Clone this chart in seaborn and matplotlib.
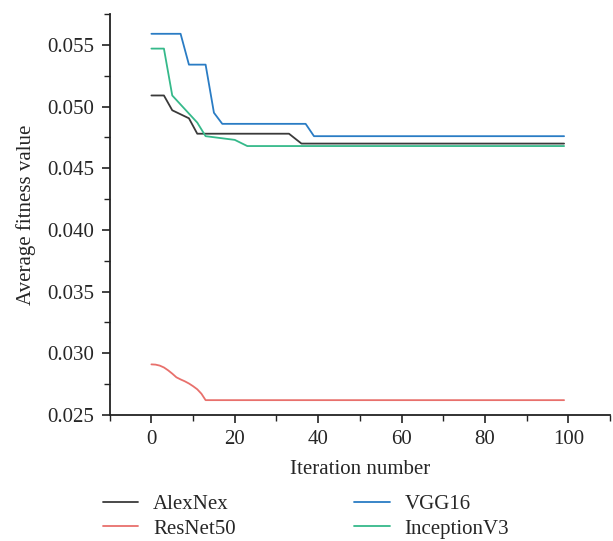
import numpy as np
import pandas as pd
import matplotlib
matplotlib.use("Agg")
import matplotlib.pyplot as plt
import seaborn as sns
from matplotlib.ticker import MultipleLocator

# Breakpoints (iteration, average fitness)
alex_x = [0, 3, 5, 9, 11, 33, 36, 99]
alex_y = [0.0509, 0.0509, 0.0497, 0.04905, 0.0478, 0.0478, 0.0470, 0.0470]

resnet_x = [0, 1, 2, 3, 4, 5, 6, 7, 8, 9, 10, 11, 12, 13, 99]
resnet_y = [0.0291, 0.02908, 0.02900, 0.02885, 0.02862, 0.02835, 0.02805, 0.02788,
            0.02773, 0.02755, 0.02733, 0.02708, 0.02672, 0.0262, 0.0262]

vgg_x = [0, 7, 9, 13, 15, 17, 37, 39, 99]
vgg_y = [0.0559, 0.0559, 0.0534, 0.0534, 0.0495, 0.0486, 0.0486, 0.0476, 0.0476]

incep_x = [0, 3, 5, 11, 13, 20, 23, 99]
incep_y = [0.0547, 0.0547, 0.0509, 0.0487, 0.0476, 0.0473, 0.0468, 0.0468]

names = ["AlexNex", "ResNet50", "VGG16", "InceptionV3"]
colors = ["#3a3a3a", "#e8706c", "#2a7cc4", "#35b98a"]

frames = []
for name, xs, ys in zip(names, [alex_x, resnet_x, vgg_x, incep_x],
                        [alex_y, resnet_y, vgg_y, incep_y]):
    frames.append(pd.DataFrame({"iteration": xs, "fitness": ys, "model": name}))
df = pd.concat(frames, ignore_index=True)

sns.set_style("ticks")
plt.rcParams["font.family"] = ["Liberation Serif", "DejaVu Serif"]

fig = plt.figure(figsize=(6.13, 5.41), dpi=100)
ax = fig.add_axes([0.179, 0.233, 0.816, 0.741])

sns.lineplot(data=df, x="iteration", y="fitness", hue="model", hue_order=names,
             palette=colors, linewidth=1.3, sort=False, estimator=None, ax=ax)

ax.set_xlim(-10, 110)
ax.set_ylim(0.025, 0.0575)
ax.xaxis.set_major_locator(MultipleLocator(20))
ax.xaxis.set_minor_locator(MultipleLocator(10))
ax.yaxis.set_major_locator(MultipleLocator(0.005))
ax.yaxis.set_minor_locator(MultipleLocator(0.0025))
ax.yaxis.set_major_formatter(matplotlib.ticker.FormatStrFormatter("%.3f"))
ax.set_yticks(np.arange(0.025, 0.0551, 0.005))

ax.tick_params(axis="both", which="major", length=6, width=1.2, labelsize=15,
               color="#222222", pad=5)
ax.tick_params(axis="both", which="minor", length=4, width=1.0, color="#222222")
for s in ["top", "right"]:
    ax.spines[s].set_visible(False)
for s in ["left", "bottom"]:
    ax.spines[s].set_linewidth(1.3)
    ax.spines[s].set_color("#222222")

ax.set_xlabel("Iteration number", fontsize=15, labelpad=8)
ax.set_ylabel("Average fitness value", fontsize=15, labelpad=8)

handles, labels = ax.get_legend_handles_labels()
ax.legend(handles, labels, ncol=2, frameon=False, fontsize=15,
          loc="upper left", bbox_to_anchor=(-0.03, -0.177),
          columnspacing=5.7, handlelength=1.7, handletextpad=0.7, labelspacing=0.25,
          borderaxespad=0.0)

fig.savefig("out.png", dpi=100)
